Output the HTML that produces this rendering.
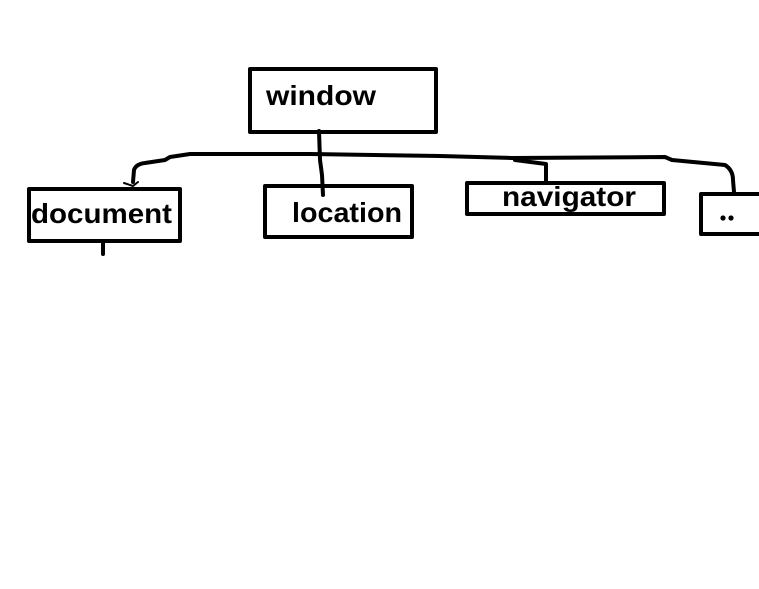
<!DOCTYPE html>
<html><head><meta charset="utf-8"><style>
html,body{margin:0;padding:0;background:#fff;}
body{width:759px;height:589px;overflow:hidden;position:relative;}
svg{position:absolute;left:0;top:0;}
text{font-family:"Liberation Sans",sans-serif;font-weight:bold;fill:#000;}
</style></head><body>
<svg width="759" height="589" viewBox="0 0 759 589">
<g fill="none" stroke="#000" stroke-width="4" stroke-linejoin="round" stroke-linecap="round">
<rect x="250" y="69" width="186" height="63"/>
<rect x="29" y="189" width="151" height="52"/>
<rect x="265" y="186" width="147" height="51"/>
<rect x="467" y="183" width="197" height="31"/>
<path d="M701 194 H761 M701 194 V234 H761"/>
<path d="M319 131 L320 160 L322 175 L323 195"/>
<path d="M133 182 L134 170 Q136 164 145 163 L165 160 L170 157 L190 154 L310 154 L440 156 L512 158 L665 157 L672 160 L725 165 Q733 170 733 180 L734 192"/>
<path d="M515 160 L546 164 L546 182"/>
<path d="M103 242 L103 254"/>
<path d="M124 183 L133 186 L138 182" stroke-width="2"/>
</g>
<text x="266" y="105" font-size="28" textLength="110" lengthAdjust="spacingAndGlyphs">window</text>
<text x="31" y="223" font-size="28" textLength="141" lengthAdjust="spacingAndGlyphs">document</text>
<text x="292" y="222" font-size="28" textLength="110" lengthAdjust="spacingAndGlyphs">location</text>
<text x="502" y="206" font-size="28" textLength="134" lengthAdjust="spacingAndGlyphs">navigator</text>
<circle cx="723" cy="218" r="2.6" fill="#000"/>
<circle cx="731" cy="218" r="2.6" fill="#000"/>
</svg>
</body></html>
